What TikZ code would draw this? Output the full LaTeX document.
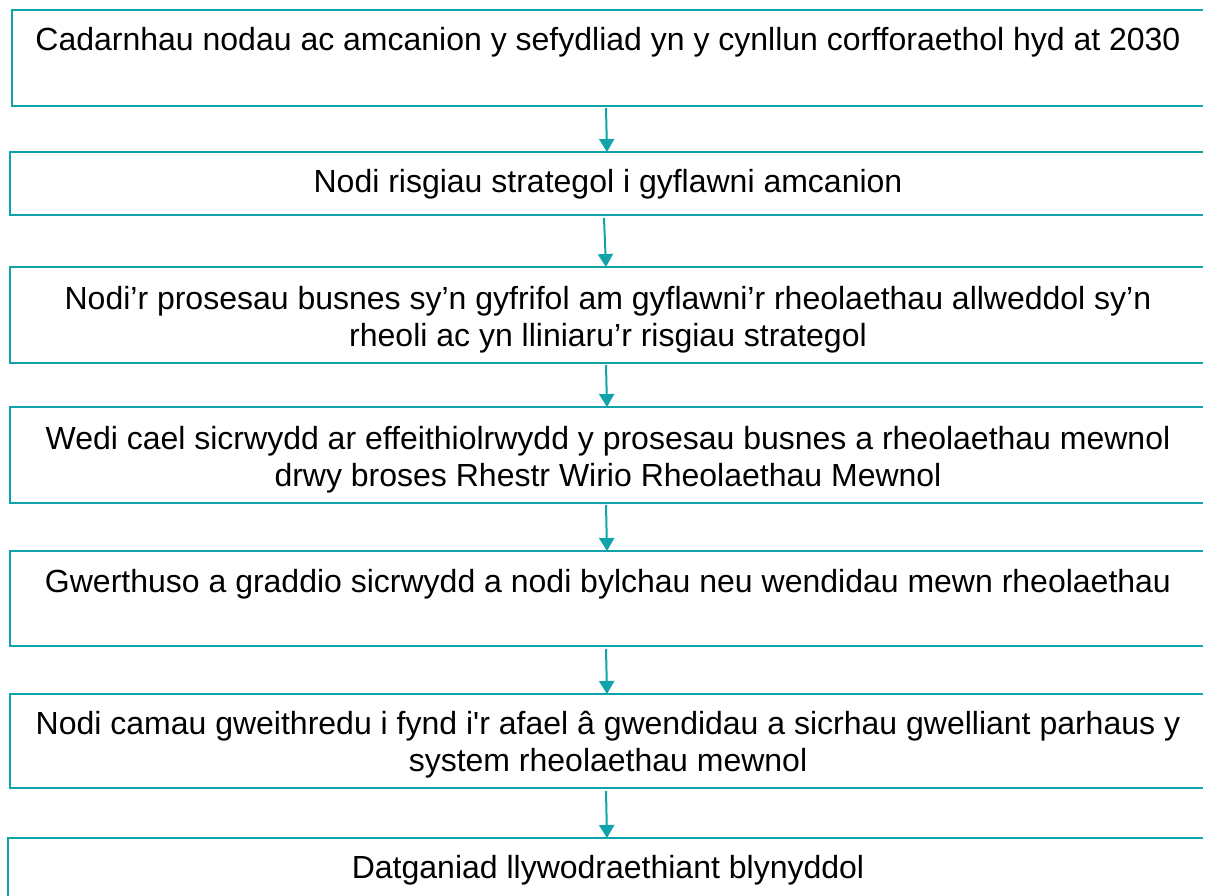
\documentclass[tikz,border=0pt]{standalone}
\usepackage{fontspec}
\setmainfont{Liberation Sans}
\usetikzlibrary{arrows.meta}
\definecolor{teal1}{RGB}{16,163,170}
\tikzset{
  stepbox/.style={rectangle, inner sep=0pt, outer sep=0pt, anchor=north west},
  boxline/.style={draw=teal1, line width=2.5pt},
  txt/.style={anchor=north, inner sep=0pt, align=center, font=\fontsize{32pt}{37pt}\selectfont, text=black},
  arr/.style={draw=teal1, line width=2pt, -{Triangle[width=15pt,length=13pt]}}
}
\newcommand{\fl}{\rule{0pt}{30pt}}
\begin{document}
\begin{tikzpicture}[x=1pt,y=-1pt]
\useasboundingbox (0,0) rectangle (1205,895);
\node[stepbox, minimum height=96pt, minimum width=1191pt] (b1) at (12,10) {};
\node[stepbox, minimum height=63pt, minimum width=1193pt] (b2) at (10,152) {};
\node[stepbox, minimum height=96pt, minimum width=1193pt] (b3) at (10,267) {};
\node[stepbox, minimum height=96pt, minimum width=1193pt] (b4) at (10,407) {};
\node[stepbox, minimum height=95pt, minimum width=1193pt] (b5) at (10,551) {};
\node[stepbox, minimum height=94pt, minimum width=1193pt] (b6) at (10,694) {};
\node[stepbox, minimum height=100pt, minimum width=1195pt] (b7) at (8,838) {};
\foreach \b in {b1,b2,b3,b4,b5,b6,b7}
  \draw[boxline] (\b.north east) -- (\b.north west) -- (\b.south west) -- (\b.south east);

\node[txt] (t1) at (608,20) {\fl Cadarnhau nodau ac amcanion y sefydliad yn y cynllun corfforaethol hyd at 2030};
\node[txt] (t2) at (608,162) {\fl Nodi risgiau strategol i gyflawni amcanion};
\node[txt] (t3) at (608,279) {\fl Nodi’r prosesau busnes sy’n gyfrifol am gyflawni’r rheolaethau allweddol sy’n\\rheoli ac yn lliniaru’r risgiau strategol};
\node[txt] (t4) at (608,419) {\fl Wedi cael sicrwydd ar effeithiolrwydd y prosesau busnes a rheolaethau mewnol\\drwy broses Rhestr Wirio Rheolaethau Mewnol};
\node[txt] (t5) at (608,562) {\fl Gwerthuso a graddio sicrwydd a nodi bylchau neu wendidau mewn rheolaethau};
\node[txt] (t6) at (608,704) {\fl Nodi camau gweithredu i fynd i\textquotesingle r afael â gwendidau a sicrhau gwelliant parhaus y\\system rheolaethau mewnol};
\node[txt] (t7) at (608,848) {\fl Datganiad llywodraethiant blynyddol};

\coordinate (ax) at (606,0);
\draw[arr] (b1.south -| ax) ++(0,2) -- ([xshift=1pt]b2.north -| ax);
\draw[arr] ([xshift=-2pt]b2.south -| ax) ++(0,3) -- (b3.north -| ax);
\draw[arr] (b3.south -| ax) ++(0,2) -- ([xshift=1pt]b4.north -| ax);
\draw[arr] (b4.south -| ax) ++(0,2) -- ([xshift=1pt]b5.north -| ax);
\draw[arr] (b5.south -| ax) ++(0,3) -- ([xshift=1pt]b6.north -| ax);
\draw[arr] (b6.south -| ax) ++(0,3) -- ([xshift=1pt]b7.north -| ax);
\end{tikzpicture}
\end{document}
